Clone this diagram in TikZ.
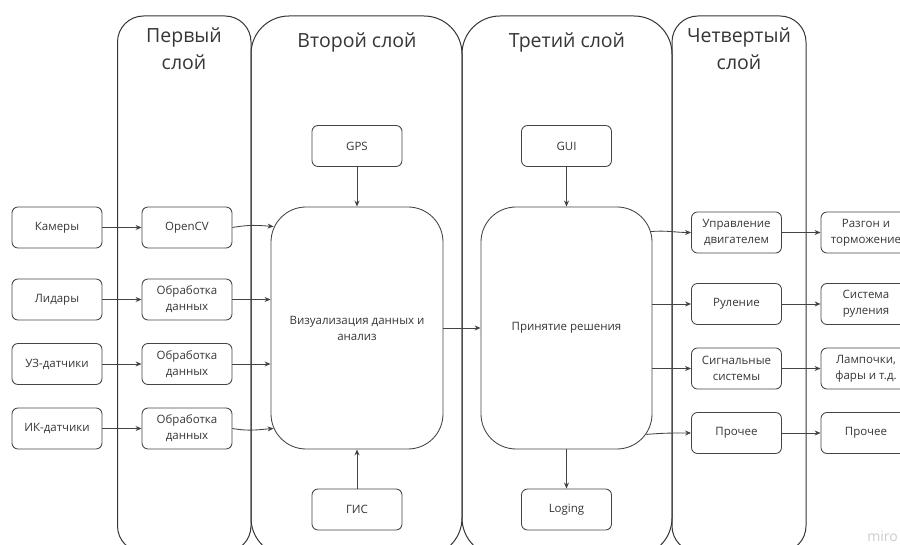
\documentclass[tikz,border=0pt]{standalone}
\usepackage{fontspec}
\setmainfont{Open Sans}
\usetikzlibrary{arrows.meta,calc}
\definecolor{ink}{HTML}{363636}
\definecolor{edge}{HTML}{444444}
\tikzset{
  lay/.style={draw=ink,line width=1pt},
  hdr/.style={text=ink,font=\fontsize{19.5}{27}\selectfont,align=center,inner sep=0pt},
  box/.style={draw=edge,line width=0.85pt,rounded corners=6pt,minimum width=90pt,minimum height=41pt,
    text=ink,font=\fontsize{11.5}{16}\selectfont,align=center,inner sep=0pt},
  big/.style={draw=edge,line width=0.85pt,rounded corners=35pt,minimum width=172pt,minimum height=242pt,
    text=ink,font=\fontsize{11.5}{16}\selectfont,align=center,inner sep=0pt},
  arr/.style={draw=edge,line width=0.85pt,-{Stealth[length=6pt,width=5pt]}}
}
\begin{document}
\begin{tikzpicture}[x=1pt,y=-1pt]
\useasboundingbox (0,0) rectangle (900,545);
\fill[white] (0,0) rectangle (900,545);
\clip (0,0) rectangle (900,545);
% layers
\draw[lay,rounded corners=26pt] (117.5,16) rectangle (251,552);
\draw[lay,rounded corners=38pt] (251,16) rectangle (462,556);
\draw[lay,rounded corners=38pt] (462,16) rectangle (672,556);
\draw[lay,rounded corners=26pt] (672,16) rectangle (806,552);
\node[hdr] (h1) at (184,49) {Первый\\слой};
\node[hdr] (h2) at (357,42) {Второй слой};
\node[hdr] (h3) at (567,42) {Третий слой};
\node[hdr] (h4) at (739,49) {Четвертый\\слой};
% left
\node[box] (kam) at (57,227.5) {Камеры};
\node[box] (lid) at (57,299.5) {Лидары};
\node[box] (uz) at (57,364) {УЗ-датчики};
\node[box] (ik) at (57,428.5) {ИК-датчики};
\node[box] (ocv) at (187,227.5) {OpenCV};
\node[box] (ob1) at (187,299.5) {Обработка\\данных};
\node[box] (ob2) at (187,364) {Обработка\\данных};
\node[box] (ob3) at (187,428.5) {Обработка\\данных};
% second layer
\node[box] (gps) at (357,146) {GPS};
\node[big] (viz) at (357,328) {Визуализация данных и\\анализ};
\node[box] (gis) at (357,509.5) {ГИС};
% third layer
\node[box] (gui) at (566.5,146) {GUI};
\node[big,minimum width=171pt] (dec) at (566.5,328) {Принятие решения};
\node[box] (log) at (566.5,509.5) {Loging};
% fourth layer
\node[box] (upr) at (736.5,232.5) {Управление\\двигателем};
\node[box] (rul) at (736.5,304) {Руление};
\node[box] (sig) at (736.5,368.5) {Сигнальные\\системы};
\node[box] (pro) at (736.5,433) {Прочее};
% right
\node[box] (raz) at (866,232.5) {Разгон и\\торможение};
\node[box] (sis) at (866,304) {Система\\руления};
\node[box] (lam) at (866,368.5) {Лампочки,\\фары и т.д.};
\node[box] (pr2) at (866,433) {Прочее};
\node[text=gray!40,font=\fontsize{14}{16}\selectfont,anchor=east,inner sep=0pt] (miro) at (898,536) {miro};
% connectors
\draw[arr] (kam) -- (ocv);
\draw[arr] (lid) -- (ob1);
\draw[arr] (uz) -- (ob2);
\draw[arr] (ik) -- (ob3);
\coordinate (v1) at ($(viz.north west)+(3,20)$);
\coordinate (v4) at ($(viz.south west)+(3,-21)$);
\draw[arr] (ocv.east) to[out=10,in=175] (v1);
\draw[arr] (ob1.east) -- (ob1.east -| viz.west);
\draw[arr] (ob2.east) -- (ob2.east -| viz.west);
\draw[arr] (ob3.east) to[out=-10,in=185] (v4);
\draw[arr] (gps) -- (viz);
\draw[arr] (gis) -- (viz);
\draw[arr] (viz) -- (dec);
\draw[arr] (gui) -- (dec);
\draw[arr] (dec) -- (log);
\coordinate (d1) at ($(dec.north east)+(-1.5,25)$);
\coordinate (d4) at ($(dec.south east)+(-6,-15)$);
\draw[arr] (d1) to[out=5,in=180] (upr.west);
\draw[arr] (dec.east |- rul.west) -- (rul.west);
\draw[arr] (dec.east |- sig.west) -- (sig.west);
\draw[arr] (d4) to[out=5,in=180] (pro.west);
\draw[arr] (upr) -- (raz);
\draw[arr] (rul) -- (sis);
\draw[arr] (sig) -- (lam);
\draw[arr] (pro) -- (pr2);
\end{tikzpicture}
\end{document}
